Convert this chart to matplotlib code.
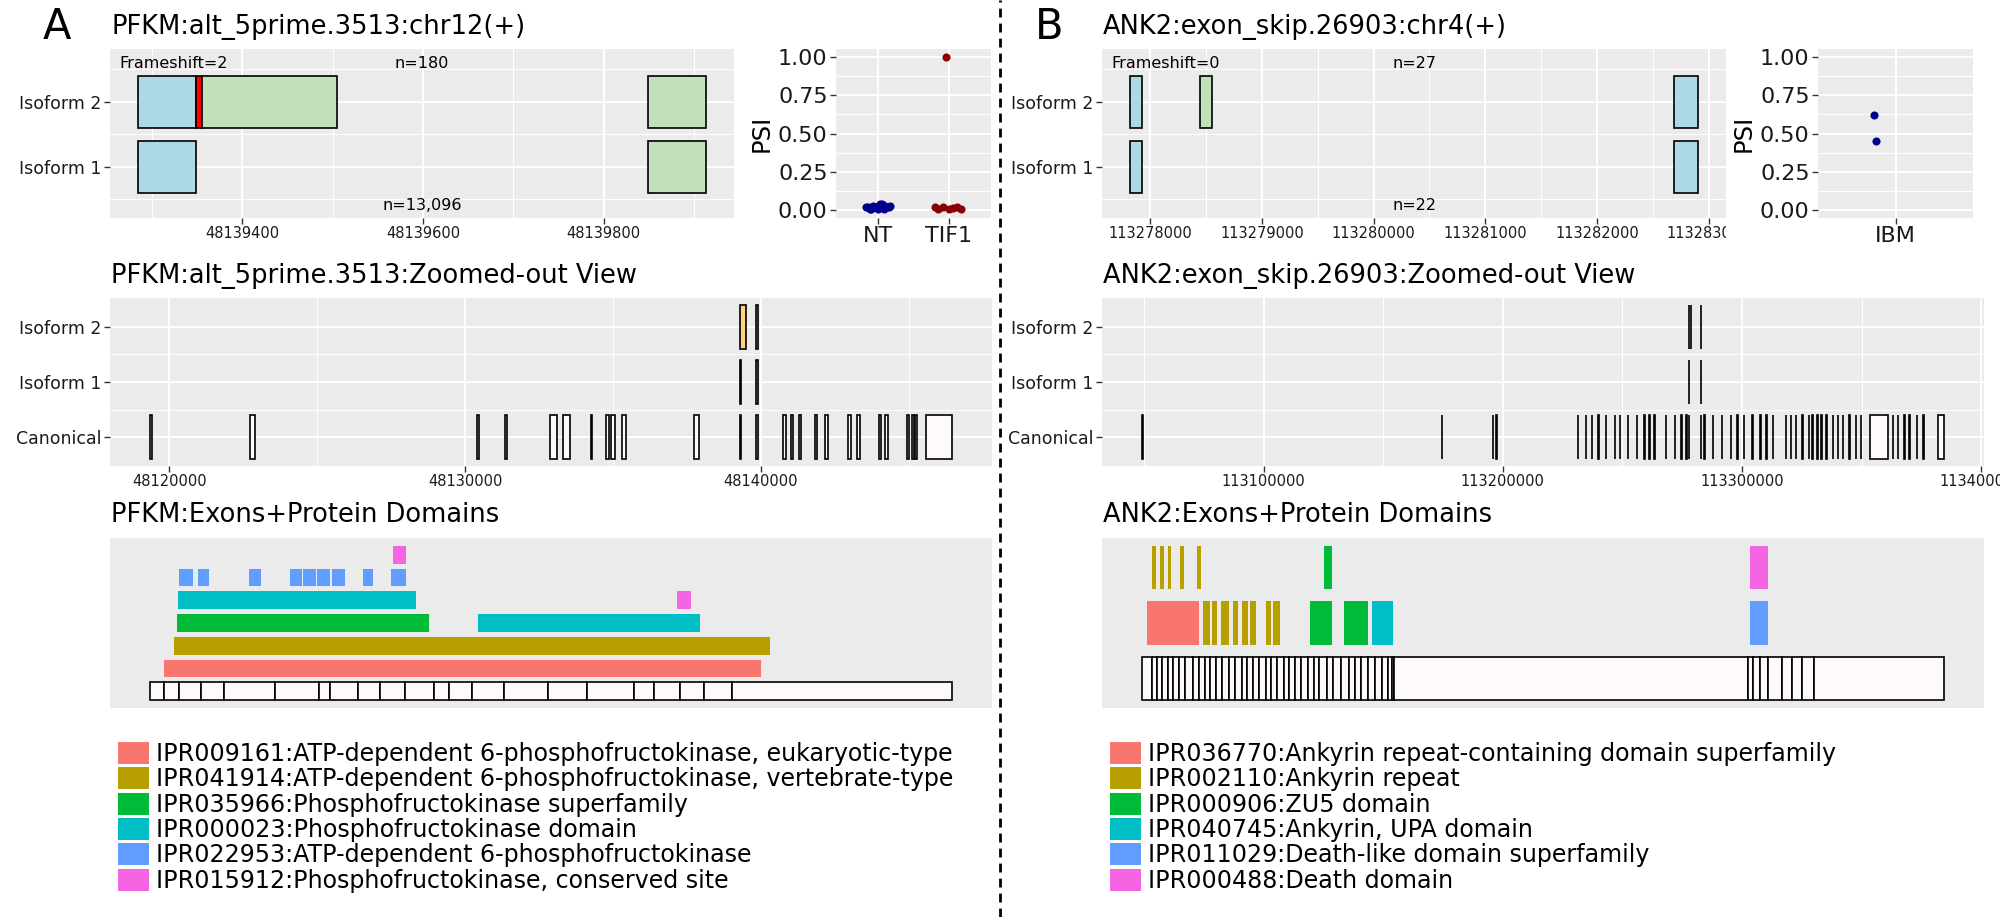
import matplotlib
matplotlib.use('Agg')
import matplotlib.pyplot as plt
from matplotlib.patches import Patch
from matplotlib.lines import Line2D
from matplotlib.ticker import MultipleLocator, FixedLocator, FuncFormatter


# ==========================================
# DATA
# ==========================================

# ---- Panel A : PFKM ----
a_title = "PFKM:alt_5prime.3513:chr12(+)"
a_zoom_title = "PFKM:alt_5prime.3513:Zoomed-out View"
a_dom_title = "PFKM:Exons+Protein Domains"
a_frameshift = 2
a_n_iso2 = 180
a_n_iso1 = 13096

a_iso2_start = [48139285, 48139349, 48139356, 48139849]
a_iso2_end = [48139349, 48139356, 48139505, 48139913]
a_iso2_kind = ["shared", "shift", "alt", "alt"]
a_iso1_start = [48139285, 48139849]
a_iso1_end = [48139349, 48139913]
a_iso1_kind = ["shared", "alt"]

a_psi_groups = ["NT", "TIF1"]
a_psi_nt = [0.02, 0.01, 0.03, 0.02, 0.04, 0.01, 0.02, 0.03, 0.02, 0.01, 0.03, 0.02, 0.04, 0.02, 0.01, 0.03]
a_jit_nt = [-0.18, -0.12, -0.08, -0.02, 0.03, 0.08, 0.12, 0.17, -0.15, 0.0, 0.1, -0.05, 0.05, 0.15, -0.1, 0.06]
a_psi_tif1 = [1.0, 0.01, 0.02, 0.01, 0.015, 0.02, 0.01, 0.02]
a_jit_tif1 = [-0.04, -0.15, -0.08, 0.0, 0.06, 0.12, 0.18, -0.2]

a_canon_start = [48119350, 48122740, 48130390, 48131350, 48132870, 48133330, 48134250, 48134770,
                 48134950, 48135310, 48137750, 48139285, 48139849, 48140760, 48141020, 48141290,
                 48141830, 48142180, 48142960, 48143260, 48143990, 48144210, 48144940, 48145110,
                 48145220, 48145588]
a_canon_end = [48119410, 48122900, 48130460, 48131420, 48133108, 48133540, 48134300, 48134880,
               48135081, 48135436, 48137902, 48139349, 48139913, 48140860, 48141100, 48141370,
               48141920, 48142270, 48143050, 48143350, 48144080, 48144300, 48145020, 48145190,
               48145290, 48146466]
a_zo_iso2_start = [48139285, 48139849]
a_zo_iso2_end = [48139505, 48139913]
a_zo_iso1_start = [48139285, 48139849]
a_zo_iso1_end = [48139349, 48139913]

# transcript coordinates of exon boundaries (domain panel)
a_exon_bounds = [0, 55, 115, 200, 290, 490, 665, 705, 815, 905, 1000, 1115, 1175, 1265, 1390,
                 1565, 1715, 1900, 1980, 2080, 2175, 2285, 3150]
a_dom_ids = ["IPR009161", "IPR041914", "IPR035966", "IPR000023", "IPR022953", "IPR015912"]
a_dom_names = ["ATP-dependent 6-phosphofructokinase, eukaryotic-type",
               "ATP-dependent 6-phosphofructokinase, vertebrate-type",
               "Phosphofructokinase superfamily",
               "Phosphofructokinase domain",
               "ATP-dependent 6-phosphofructokinase",
               "Phosphofructokinase, conserved site"]
a_feat_id = ["IPR009161", "IPR041914", "IPR035966", "IPR000023", "IPR000023", "IPR015912",
             "IPR022953", "IPR022953", "IPR022953", "IPR022953", "IPR022953", "IPR022953",
             "IPR022953", "IPR022953", "IPR022953", "IPR015912"]
a_feat_row = [1, 2, 3, 3, 4, 4, 5, 5, 5, 5, 5, 5, 5, 5, 5, 6]
a_feat_start = [55, 95, 105, 1290, 110, 2070, 115, 190, 390, 550, 600, 655, 715, 835, 945, 955]
a_feat_end = [2400, 2435, 1095, 2160, 1045, 2125, 170, 230, 435, 595, 650, 705, 765, 875, 1005, 1005]

# ---- Panel B : ANK2 ----
b_title = "ANK2:exon_skip.26903:chr4(+)"
b_zoom_title = "ANK2:exon_skip.26903:Zoomed-out View"
b_dom_title = "ANK2:Exons+Protein Domains"
b_frameshift = 0
b_n_iso2 = 27
b_n_iso1 = 22

b_iso2_start = [113277821, 113278446, 113282688]
b_iso2_end = [113277923, 113278554, 113282902]
b_iso2_kind = ["shared", "alt", "shared"]
b_iso1_start = [113277821, 113282688]
b_iso1_end = [113277923, 113282902]
b_iso1_kind = ["shared", "shared"]

b_psi_groups = ["IBM"]
b_psi_ibm = [0.62, 0.45]
b_jit_ibm = [-0.17, -0.15]

b_canon_start = [113049250, 113174400, 113195700, 113197300, 113231400, 113234600, 113237250,
                 113239900, 113243100, 113246850, 113248950, 113252150, 113255900, 113259100,
                 113261200, 113263350, 113268150, 113271850, 113274550, 113276650, 113277821,
                 113282688, 113284100, 113287850, 113291550, 113295300, 113297950, 113300600,
                 113304350, 113307550, 113310200, 113312850, 113318200, 113320350, 113322450,
                 113325100, 113327800, 113329400, 113331500, 113333100, 113335250, 113337900,
                 113340050, 113342150, 113344850, 113347500, 113349650, 113353461, 113362950,
                 113365050, 113367750, 113369850, 113373050, 113375700, 113381689]
b_canon_end = [113049450, 113174600, 113195900, 113197500, 113231600, 113234800, 113237450,
               113240100, 113243300, 113247050, 113249150, 113252350, 113256100, 113259300,
               113261400, 113263550, 113268350, 113272050, 113274750, 113276850, 113277923,
               113282902, 113284300, 113288050, 113291750, 113295500, 113298150, 113300800,
               113304550, 113307750, 113310400, 113313050, 113318400, 113320550, 113322650,
               113325300, 113328000, 113329600, 113331700, 113333300, 113335450, 113338100,
               113340250, 113342350, 113345050, 113347700, 113349850, 113360917, 113363150,
               113365250, 113367950, 113370050, 113373250, 113375900, 113384352]
b_zo_iso2_start = [113277821, 113278446, 113282688]
b_zo_iso2_end = [113277923, 113278554, 113282902]
b_zo_iso1_start = [113277821, 113282688]
b_zo_iso1_end = [113277923, 113282902]

b_exon_bounds = [0, 40, 60, 80, 100, 120, 145, 170, 200, 225, 245, 265, 290, 315, 340, 365, 390,
                 410, 435, 460, 485, 505, 530, 555, 575, 600, 625, 650, 675, 695, 725, 750, 780,
                 810, 835, 860, 885, 915, 940, 965, 980, 990, 2375, 2395, 2425, 2455, 2510, 2550,
                 2590, 2635, 3145]
b_dom_ids = ["IPR036770", "IPR002110", "IPR000906", "IPR040745", "IPR011029", "IPR000488"]
b_dom_names = ["Ankyrin repeat-containing domain superfamily",
               "Ankyrin repeat",
               "ZU5 domain",
               "Ankyrin, UPA domain",
               "Death-like domain superfamily",
               "Death domain"]
b_feat_id = ["IPR036770", "IPR002110", "IPR002110", "IPR002110", "IPR002110", "IPR002110",
             "IPR002110", "IPR002110", "IPR002110", "IPR000906", "IPR000906", "IPR040745",
             "IPR011029", "IPR002110", "IPR002110", "IPR002110", "IPR002110", "IPR002110",
             "IPR000906", "IPR000488"]
b_feat_row = [1, 1, 1, 1, 1, 1, 1, 1, 1, 1, 1, 1, 1, 2, 2, 2, 2, 2, 2, 2]
b_feat_start = [20, 240, 275, 310, 355, 390, 425, 485, 515, 660, 790, 900, 2385,
                40, 70, 100, 150, 215, 715, 2385]
b_feat_end = [225, 265, 295, 340, 375, 415, 445, 505, 540, 745, 885, 985, 2455,
              55, 85, 115, 165, 230, 745, 2455]


# ==========================================
# STYLE
# ==========================================

W, H = 2000, 917
BG = "#EBEBEB"
KIND_FILL = {"shared": "#ADD8E6", "alt": "#C1E1BB", "shift": "#FF0000"}
ZO_ISO_FILL = "#FFD27F"
CANON_FILL = "#FFFAFA"
HUE6 = ["#F8766D", "#B79F00", "#00BA38", "#00BFC4", "#619CFF", "#F564E3"]

plt.rcParams['font.family'] = ['DejaVu Sans']

fig = plt.figure(figsize=(W / 100, H / 100), dpi=100)


def ax_px(x0, y0, x1, y1):
    """Axes placed in pixel coordinates (origin top-left)."""
    return fig.add_axes([x0 / W, 1 - y1 / H, (x1 - x0) / W, (y1 - y0) / H])


def gg_style(ax):
    ax.set_facecolor(BG)
    for s in ax.spines.values():
        s.set_visible(False)
    ax.grid(which='major', color='white', linewidth=1.4)
    ax.grid(which='minor', color='white', linewidth=0.7)
    ax.set_axisbelow(True)
    ax.tick_params(which='major', length=4, width=1, color='#333333', labelcolor='#1a1a1a')
    ax.tick_params(which='minor', length=0)


int_fmt = FuncFormatter(lambda v, p: f"{int(round(v))}")


def draw_top(ax, iso2, iso1, step, frameshift, n2, n1):
    gg_style(ax)
    starts = iso2[0] + iso1[0]
    ends = iso2[1] + iso1[1]
    for (s_list, e_list, k_list), y in ((iso2, 2), (iso1, 1)):
        for s, e, k in zip(s_list, e_list, k_list):
            ax.barh(y, e - s, left=s, height=0.8, color=KIND_FILL[k],
                    edgecolor='black', linewidth=1.2, zorder=2)
    lo, hi = min(starts), max(ends)
    pad = 0.05 * (hi - lo)
    ax.set_xlim(lo - pad, hi + pad)
    ax.set_ylim(0.21, 2.81)
    ax.xaxis.set_major_locator(MultipleLocator(step))
    ax.xaxis.set_minor_locator(MultipleLocator(step / 2))
    ax.xaxis.set_major_formatter(int_fmt)
    ax.yaxis.set_major_locator(FixedLocator([1, 2]))
    ax.yaxis.set_minor_locator(FixedLocator([0.5, 1.5, 2.5]))
    ax.set_yticklabels(["Isoform 1", "Isoform 2"])
    ax.tick_params(axis='x', labelsize=10.5, pad=2)
    ax.tick_params(axis='y', labelsize=12.5, pad=2)
    ax.text(lo + 0.062 * (hi - lo), 2.58, f"Frameshift={frameshift}", ha='center', va='center',
            fontsize=11.5, zorder=3)
    mid = (lo + hi) / 2
    ax.text(mid, 2.58, f"n={n2:,}", ha='center', va='center', fontsize=11.5, zorder=3)
    ax.text(mid, 0.41, f"n={n1:,}", ha='center', va='center', fontsize=11.5, zorder=3)


def draw_psi(ax, groups, vals_list, jit_list, colors):
    gg_style(ax)
    for i, (vals, jit, c) in enumerate(zip(vals_list, jit_list, colors)):
        ax.scatter([i + 1 + j for j in jit], vals, s=34, color=c, linewidths=0, zorder=3)
    ax.set_xlim(0.4, len(groups) + 0.6)
    ax.set_ylim(-0.05, 1.05)
    ax.xaxis.set_major_locator(FixedLocator(list(range(1, len(groups) + 1))))
    ax.set_xticklabels(groups)
    ax.xaxis.set_minor_locator(FixedLocator([]))
    ax.yaxis.set_major_locator(MultipleLocator(0.25))
    ax.yaxis.set_minor_locator(MultipleLocator(0.125))
    ax.yaxis.set_major_formatter(FuncFormatter(lambda v, p: f"{v:.2f}"))
    ax.tick_params(labelsize=16, pad=2)
    ax.set_ylabel("PSI", fontsize=17.5, labelpad=3)


def draw_zoomed(ax, canon, iso1, iso2, step):
    gg_style(ax)
    for (s_list, e_list), y, fill in ((canon, 1, CANON_FILL), (iso1, 2, ZO_ISO_FILL),
                                      (iso2, 3, ZO_ISO_FILL)):
        for s, e in zip(s_list, e_list):
            ax.barh(y, e - s, left=s, height=0.8, color=fill, edgecolor='black',
                    linewidth=1.2, zorder=2)
    lo, hi = min(canon[0]), max(canon[1])
    pad = 0.05 * (hi - lo)
    ax.set_xlim(lo - pad, hi + pad)
    ax.set_ylim(0.48, 3.52)
    ax.xaxis.set_major_locator(MultipleLocator(step))
    ax.xaxis.set_minor_locator(MultipleLocator(step / 2))
    ax.xaxis.set_major_formatter(int_fmt)
    ax.yaxis.set_major_locator(FixedLocator([1, 2, 3]))
    ax.yaxis.set_minor_locator(FixedLocator([1.5, 2.5]))
    ax.set_yticklabels(["Canonical", "Isoform 1", "Isoform 2"])
    ax.tick_params(axis='x', labelsize=10.5, pad=2)
    ax.tick_params(axis='y', labelsize=12.5, pad=2)


def draw_domains(ax, bounds, ids, f_id, f_row, f_start, f_end):
    ax.set_facecolor(BG)
    for s in ax.spines.values():
        s.set_visible(False)
    pal = dict(zip(ids, HUE6))
    for s, e in zip(bounds[:-1], bounds[1:]):
        ax.barh(0, e - s, left=s, height=0.78, color=CANON_FILL, edgecolor='black', linewidth=1.2)
    for i, r, s, e in zip(f_id, f_row, f_start, f_end):
        ax.barh(r, e - s, left=s, height=0.78, color=pal[i], linewidth=0)
    lo, hi = bounds[0], bounds[-1]
    pad = 0.05 * (hi - lo)
    ax.set_xlim(lo - pad, hi + pad)
    ylo, yhi = -0.39, max(f_row) + 0.39
    ypad = 0.05 * (yhi - ylo)
    ax.set_ylim(ylo - ypad, yhi + ypad)
    ax.set_xticks([])
    ax.set_yticks([])


# ==========================================
# LAYOUT : two columns, B = A shifted by 992 px
# ==========================================

columns = [
    dict(letter="A", dx=0, psi_x=836, title=a_title, ztitle=a_zoom_title, dtitle=a_dom_title,
         iso2=(a_iso2_start, a_iso2_end, a_iso2_kind), iso1=(a_iso1_start, a_iso1_end, a_iso1_kind),
         top_step=200, fs=a_frameshift, n2=a_n_iso2, n1=a_n_iso1,
         psi_groups=a_psi_groups, psi_vals=[a_psi_nt, a_psi_tif1], psi_jit=[a_jit_nt, a_jit_tif1],
         psi_col=["#00008B", "#8B0000"],
         canon=(a_canon_start, a_canon_end), zo1=(a_zo_iso1_start, a_zo_iso1_end),
         zo2=(a_zo_iso2_start, a_zo_iso2_end), zo_step=10000,
         bounds=a_exon_bounds, ids=a_dom_ids, names=a_dom_names,
         feats=(a_feat_id, a_feat_row, a_feat_start, a_feat_end)),
    dict(letter="B", dx=992, psi_x=1818, title=b_title, ztitle=b_zoom_title, dtitle=b_dom_title,
         iso2=(b_iso2_start, b_iso2_end, b_iso2_kind), iso1=(b_iso1_start, b_iso1_end, b_iso1_kind),
         top_step=1000, fs=b_frameshift, n2=b_n_iso2, n1=b_n_iso1,
         psi_groups=b_psi_groups, psi_vals=[b_psi_ibm], psi_jit=[b_jit_ibm],
         psi_col=["#00008B"],
         canon=(b_canon_start, b_canon_end), zo1=(b_zo_iso1_start, b_zo_iso1_end),
         zo2=(b_zo_iso2_start, b_zo_iso2_end), zo_step=100000,
         bounds=b_exon_bounds, ids=b_dom_ids, names=b_dom_names,
         feats=(b_feat_id, b_feat_row, b_feat_start, b_feat_end)),
]

for col in columns:
    dx = col["dx"]
    fig.text((57 + dx) / W, 1 - 27 / H, col["letter"], fontsize=30, ha='center', va='center')
    fig.text((111 + dx) / W, 1 - 27 / H, col["title"], fontsize=18.5, ha='left', va='center')
    fig.text((111 + dx) / W, 1 - 276 / H, col["ztitle"], fontsize=18.5, ha='left', va='center')
    fig.text((111 + dx) / W, 1 - 515 / H, col["dtitle"], fontsize=18.5, ha='left', va='center')

    ax_top = ax_px(110 + dx, 49, 734 + dx, 218)
    draw_top(ax_top, col["iso2"], col["iso1"], col["top_step"], col["fs"], col["n2"], col["n1"])

    ax_psi = ax_px(col["psi_x"], 49, col["psi_x"] + 155, 218)
    draw_psi(ax_psi, col["psi_groups"], col["psi_vals"], col["psi_jit"], col["psi_col"])

    ax_zo = ax_px(110 + dx, 298, 992 + dx, 466)
    draw_zoomed(ax_zo, col["canon"], col["zo1"], col["zo2"], col["zo_step"])

    ax_dom = ax_px(110 + dx, 538, 992 + dx, 708)
    draw_domains(ax_dom, col["bounds"], col["ids"], *col["feats"])

    handles = [Patch(facecolor=c, edgecolor='none') for c in HUE6]
    labels = [f"{i}:{n}" for i, n in zip(col["ids"], col["names"])]
    fig.legend(handles, labels, loc='upper left', bbox_to_anchor=((118 + dx) / W, 1 - 742 / H),
               frameon=False, fontsize=17.1, handlelength=1.3, handleheight=1.05,
               handletextpad=0.3, labelspacing=0.05, borderaxespad=0, borderpad=0)

# white strip hiding the overflowing last tick label of the B top panel
fig.patches.append(plt.Rectangle((1726 / W, 1 - 252 / H), 60 / W, 30 / H, transform=fig.transFigure,
                                 facecolor='white', edgecolor='none', zorder=10))

# dashed divider between A and B
fig.add_artist(Line2D([0.5, 0.5], [0, 1], transform=fig.transFigure, color='black',
                      linewidth=2, linestyle=(0, (3.2, 2.2))))

fig.savefig("out.png", dpi=100)
